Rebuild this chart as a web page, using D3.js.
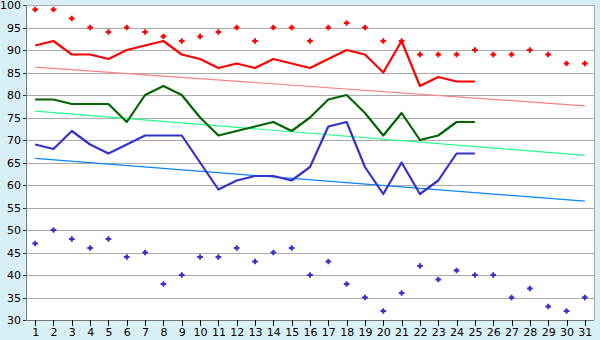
<!DOCTYPE html>
<html>
  <head>
    <meta charset="utf-8">
    <title>Daily temperatures</title>
    <style>
      body { margin: 0; background: #d9eff6; }
      #chart { width: 600px; height: 340px; }
      text { font-family: "DejaVu Sans", Verdana, sans-serif; font-size: 11px; fill: #000; }
    </style>
  </head>
  <body>
    <div id="chart"></div>
    <script src="https://cdn.jsdelivr.net/npm/d3@7"></script>
    <script>
      // days of the month
      var days = d3.range(1, 32);

      // record highs / lows (markers)
      var recordHigh = [99, 99, 97, 95, 94, 95, 94, 93, 92, 93, 94, 95, 92, 95, 95, 92,
                        95, 96, 95, 92, 92, 89, 89, 89, 90, 89, 89, 90, 89, 87, 87];
      var recordLow = [47, 50, 48, 46, 48, 44, 45, 38, 40, 44, 44, 46, 43, 45, 46, 40,
                       43, 38, 35, 32, 36, 42, 39, 41, 40, 40, 35, 37, 33, 32, 35];

      // observed series (first 25 days)
      var high = [91, 92, 89, 89, 88, 90, 91, 92, 89, 88, 86, 87, 86, 88, 87, 86,
                  88, 90, 89, 85, 92, 82, 84, 83, 83];
      var mean = [79, 79, 78, 78, 78, 74, 80, 82, 80, 75, 71, 72, 73, 74, 72, 75,
                  79, 80, 76, 71, 76, 70, 71, 74, 74];
      var low = [69, 68, 72, 69, 67, 69, 71, 71, 71, 65, 59, 61, 62, 62, 61, 64,
                 73, 74, 64, 58, 65, 58, 61, 67, 67];

      // normals: value on day 1 and on day 31
      var normalDays = [1, 31];
      var normalHigh = [86.2, 77.6];
      var normalMean = [76.4, 66.6];
      var normalLow = [65.9, 56.4];

      var yTicks = d3.range(30, 101, 5);

      (function(d3) {
        'use strict';

        var width = 600, height = 340;
        var plotLeft = 26, plotRight = 594, plotTop = 5, plotBottom = 320;

        var svg = d3.select('#chart').append('svg')
          .attr('width', width)
          .attr('height', height);

        var x = d3.scalePoint().domain(days).range([plotLeft, plotRight]).padding(0.5);
        var y = d3.scaleLinear().domain([30, 100]).range([plotBottom, plotTop]);

        // plot background
        svg.append('rect')
          .attr('x', plotLeft).attr('y', plotTop)
          .attr('width', plotRight - plotLeft).attr('height', plotBottom - plotTop)
          .attr('fill', '#fff');

        // grid lines
        svg.append('g')
          .attr('transform', 'translate(' + plotLeft + ',0)')
          .call(d3.axisLeft(y).tickValues(yTicks).tickSize(-(plotRight - plotLeft)).tickFormat(''))
          .call(function(g) {
            g.select('.domain').remove();
            g.selectAll('line').attr('stroke', '#aaa').attr('shape-rendering', 'crispEdges');
          });

        // right frame edge
        svg.append('line')
          .attr('x1', plotRight + 0.5).attr('x2', plotRight + 0.5)
          .attr('y1', plotTop).attr('y2', plotBottom)
          .attr('stroke', '#aaa');

        // y axis
        svg.append('g')
          .attr('transform', 'translate(' + plotLeft + ',0)')
          .call(d3.axisLeft(y).tickValues(yTicks).tickSize(3).tickPadding(2).tickSizeOuter(0))
          .call(function(g) {
            g.select('.domain').attr('stroke', '#777').attr('shape-rendering', 'crispEdges');
            g.selectAll('line').attr('stroke', '#333').attr('shape-rendering', 'crispEdges');
            g.selectAll('text').attr('font-size', 11).attr('font-family', 'DejaVu Sans');
          });

        // x axis
        svg.append('g')
          .attr('transform', 'translate(0,' + plotBottom + ')')
          .call(d3.axisBottom(x).tickSize(6).tickPadding(2).tickSizeOuter(0))
          .call(function(g) {
            g.select('.domain').attr('stroke', '#777').attr('d', 'M' + plotLeft + ',0.5H' + plotRight)
              .attr('shape-rendering', 'crispEdges');
            g.selectAll('line').attr('stroke', '#000').attr('shape-rendering', 'crispEdges');
            g.selectAll('text').attr('font-size', 11).attr('font-family', 'DejaVu Sans');
          });

        var line = d3.line()
          .x(function(d) { return x(d[0]); })
          .y(function(d) { return y(d[1]); });

        // normals (thin)
        var normals = [
          { values: normalHigh, color: '#ff8080' },
          { values: normalMean, color: '#22ff88' },
          { values: normalLow, color: '#0a84ff' }
        ];
        normals.forEach(function(s) {
          svg.append('path')
            .datum(normalDays.map(function(d, i) { return [d, s.values[i]]; }))
            .attr('d', line)
            .attr('fill', 'none')
            .attr('stroke', s.color)
            .attr('stroke-width', 1.2);
        });

        // observed (thick)
        var series = [
          { values: high, color: '#ff0000' },
          { values: mean, color: '#006400' },
          { values: low, color: '#3333cc' }
        ];
        series.forEach(function(s) {
          svg.append('path')
            .datum(s.values.map(function(v, i) { return [days[i], v]; }))
            .attr('d', line)
            .attr('fill', 'none')
            .attr('stroke', s.color)
            .attr('stroke-width', 2.2)
            .attr('stroke-linejoin', 'round');
        });

        // record markers: small plus with a filled centre
        var cross = d3.symbol().type(d3.symbolCross).size(18);
        var dot = d3.symbol().type(d3.symbolCircle).size(9);
        [{ values: recordHigh, color: '#ff0000' }, { values: recordLow, color: '#3333cc' }]
          .forEach(function(s) {
            var g = svg.append('g').selectAll('g')
              .data(s.values)
              .enter()
              .append('g')
              .attr('transform', function(v, i) {
                return 'translate(' + x(days[i]) + ',' + y(v) + ')';
              })
              .attr('fill', s.color);
            g.append('path').attr('d', cross);
            g.append('path').attr('d', dot);
          });
      })(window.d3);
    </script>
  </body>
</html>
